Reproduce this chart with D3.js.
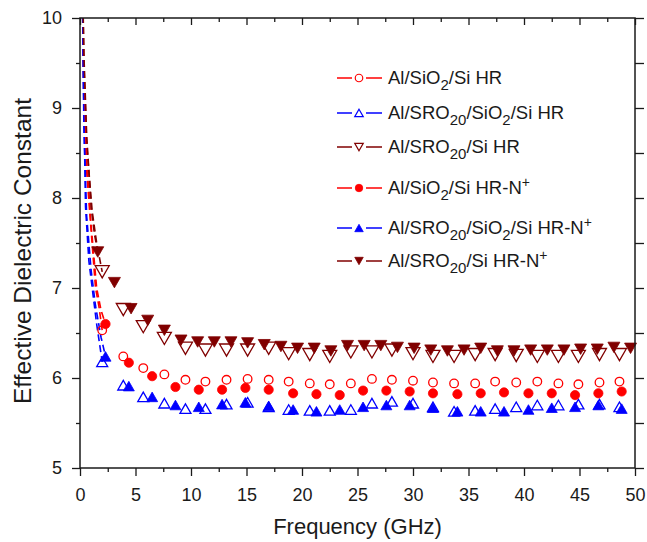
<!DOCTYPE html>
<html>
<head>
<meta charset="utf-8">
<script src="https://cdn.jsdelivr.net/npm/d3@7"></script>
<style>
  html, body { margin: 0; padding: 0; background: #fff; }
  svg { display: block; }
  text { font-family: "Liberation Sans", Arial, Helvetica, sans-serif; fill: #1a1a1a; }
</style>
</head>
<body>
<svg id="chart" width="647" height="542"></svg>
<script>
// ---------------- DATA ----------------
// marker frequencies (GHz)
const freqHR   = [2.0, 3.9, 5.7, 7.6, 9.5, 11.3, 13.2, 15.1, 17.0, 18.8, 20.7, 22.5, 24.4, 26.3, 28.1, 30.0, 31.8, 33.7, 35.6, 37.4, 39.3, 41.2, 43.1, 44.9, 46.8, 48.6];
const freqNp   = [2.3, 4.4, 6.5, 8.6, 10.7, 12.8, 14.9, 17.0, 19.2, 21.3, 23.4, 25.5, 27.6, 29.7, 31.8, 34.0, 36.1, 38.2, 40.4, 42.5, 44.6, 46.7, 48.8];
const freqDRNp = [1.6, 3.1, 4.6, 6.1, 7.6, 9.1, 10.6, 12.1, 13.6, 15.1, 16.6, 18.1, 19.6, 21.1, 22.6, 24.1, 25.6, 27.1, 28.6, 30.1, 31.6, 33.1, 34.6, 36.1, 37.6, 39.1, 40.6, 42.1, 43.6, 45.1, 46.6, 48.1, 49.6];

// effective dielectric constant at the markers
const sio2HR    = [6.53, 6.24, 6.11, 6.04, 5.98, 5.96, 5.98, 5.99, 5.98, 5.96, 5.94, 5.93, 5.94, 5.99, 5.98, 5.97, 5.95, 5.94, 5.94, 5.96, 5.95, 5.96, 5.94, 5.93, 5.95, 5.96];
const sroSio2HR = [6.18, 5.92, 5.79, 5.72, 5.66, 5.66, 5.71, 5.73, 5.68, 5.65, 5.64, 5.64, 5.65, 5.72, 5.74, 5.72, 5.68, 5.63, 5.64, 5.66, 5.68, 5.70, 5.70, 5.71, 5.71, 5.68];
const sroSiHR   = [7.18, 6.76, 6.57, 6.44, 6.33, 6.31, 6.31, 6.31, 6.33, 6.27, 6.26, 6.24, 6.29, 6.29, 6.31, 6.27, 6.24, 6.24, 6.26, 6.26, 6.25, 6.24, 6.24, 6.24, 6.26, 6.26];
const sio2Np    = [6.60, 6.17, 6.02, 5.90, 5.87, 5.87, 5.89, 5.87, 5.83, 5.82, 5.81, 5.86, 5.86, 5.85, 5.83, 5.82, 5.83, 5.84, 5.83, 5.83, 5.81, 5.83, 5.85];
const sroSio2Np = [6.24, 5.91, 5.79, 5.70, 5.68, 5.71, 5.73, 5.69, 5.65, 5.63, 5.65, 5.68, 5.70, 5.70, 5.67, 5.63, 5.63, 5.63, 5.65, 5.67, 5.68, 5.70, 5.66];
const sroSiNp   = [7.40, 7.06, 6.77, 6.64, 6.53, 6.42, 6.40, 6.40, 6.40, 6.39, 6.37, 6.35, 6.33, 6.33, 6.30, 6.36, 6.36, 6.36, 6.34, 6.33, 6.31, 6.30, 6.31, 6.33, 6.30, 6.30, 6.31, 6.31, 6.31, 6.32, 6.32, 6.34, 6.33];

// low-frequency sweep (dashed line part)
const sweepFreqSio2HR    = [0.15, 0.35, 0.6, 0.9, 1.4, 1.7, 2.0];
const sweepValSio2HR     = [11.0, 9.0, 8.3, 7.8, 7.0, 6.8, 6.53];
const sweepFreqSroSio2HR = [0.15, 0.35, 0.5, 0.8, 1.1, 1.5, 2.0];
const sweepValSroSio2HR  = [11.0, 9.0, 7.9, 7.3, 7.0, 6.6, 6.18];
const sweepFreqSroSiHR   = [0.15, 0.35, 0.6, 1.1, 1.5, 2.0];
const sweepValSroSiHR    = [11.0, 9.5, 8.6, 7.85, 7.5, 7.18];
const sweepFreqSio2Np    = [0.15, 0.35, 0.6, 1.0, 1.5, 1.9, 2.3];
const sweepValSio2Np     = [11.0, 9.2, 8.4, 7.7, 7.0, 6.75, 6.6];
const sweepFreqSroSio2Np = [0.15, 0.35, 0.6, 1.0, 1.4, 1.9, 2.3];
const sweepValSroSio2Np  = [11.0, 8.8, 7.8, 7.2, 6.8, 6.45, 6.24];
const sweepFreqSroSiNp   = [0.15, 0.35, 0.6, 1.0, 1.3, 1.6];
const sweepValSroSiNp    = [11.0, 9.6, 8.7, 7.9, 7.6, 7.4];

// legend labels: [text, kind] where kind is "" | "sub" | "sup"
const legendLabels = [
  [["Al/SiO", ""], ["2", "sub"], ["/Si HR", ""]],
  [["Al/SRO", ""], ["20", "sub"], ["/SiO", ""], ["2", "sub"], ["/Si HR", ""]],
  [["Al/SRO", ""], ["20", "sub"], ["/Si HR", ""]],
  [["Al/SiO", ""], ["2", "sub"], ["/Si HR-N", ""], ["+", "sup"]],
  [["Al/SRO", ""], ["20", "sub"], ["/SiO", ""], ["2", "sub"], ["/Si HR-N", ""], ["+", "sup"]],
  [["Al/SRO", ""], ["20", "sub"], ["/Si HR-N", ""], ["+", "sup"]]
];

const xTicks = [0, 5, 10, 15, 20, 25, 30, 35, 40, 45, 50];
const xMinorTicks = [2.5, 7.5, 12.5, 17.5, 22.5, 27.5, 32.5, 37.5, 42.5, 47.5];
const yTicks = [5, 6, 7, 8, 9, 10];
const yMinorTicks = [5.5, 6.5, 7.5, 8.5, 9.5];
const xTitle = "Frequency (GHz)";
const yTitle = "Effective Dielectric Constant";

// ---------------- SERIES (styles) ----------------
const RED = "#ff0000", BLUE = "#0000ff", DRED = "#800000";
const series = [
  { f: freqHR,   v: sio2HR,    sf: sweepFreqSio2HR,    sv: sweepValSio2HR,    color: RED,  shape: "circle",  filled: false, size: 8.6 },
  { f: freqHR,   v: sroSio2HR, sf: sweepFreqSroSio2HR, sv: sweepValSroSio2HR, color: BLUE, shape: "up",      filled: false, size: 11 },
  { f: freqHR,   v: sroSiHR,   sf: sweepFreqSroSiHR,   sv: sweepValSroSiHR,   color: DRED, shape: "down",    filled: false, size: 14 },
  { f: freqNp,   v: sio2Np,    sf: sweepFreqSio2Np,    sv: sweepValSio2Np,    color: RED,  shape: "circle",  filled: true,  size: 9.2 },
  { f: freqNp,   v: sroSio2Np, sf: sweepFreqSroSio2Np, sv: sweepValSroSio2Np, color: BLUE, shape: "up",      filled: true,  size: 11 },
  { f: freqDRNp, v: sroSiNp,   sf: sweepFreqSroSiNp,   sv: sweepValSroSiNp,   color: DRED, shape: "down",    filled: true,  size: 12 }
];

// ---------------- LAYOUT ----------------
const W = 647, H = 542;
const L = 80, R = 635, T = 18, B = 468;

const svg = d3.select("#chart");
svg.append("rect").attr("width", W).attr("height", H).attr("fill", "#fff");

const x = d3.scaleLinear().domain([0, 50]).range([L, R]);
const y = d3.scaleLinear().domain([5, 10]).range([B, T]);

function shapePath(shape, s) {
  if (shape === "circle") {
    return d3.symbol(d3.symbolCircle, Math.PI * (s / 2) * (s / 2))();
  }
  const w = s, h = s * 0.87;
  if (shape === "up") {
    return `M0,${-h / 2}L${w / 2},${h / 2}L${-w / 2},${h / 2}Z`;
  }
  return `M0,${h / 2}L${w / 2},${-h / 2}L${-w / 2},${-h / 2}Z`;
}

// clip
svg.append("defs").append("clipPath").attr("id", "plotClip")
  .append("rect").attr("x", L).attr("y", T).attr("width", R - L).attr("height", B - T);

const plot = svg.append("g").attr("clip-path", "url(#plotClip)");

// dashed low-frequency lines
const line = d3.line().x(d => x(d[0])).y(d => y(d[1]));
series.forEach(s => {
  const pts = s.sf.map((f, i) => [f, s.sv[i]]);
  plot.append("path")
    .attr("d", line(pts))
    .attr("fill", "none")
    .attr("stroke", s.color)
    .attr("stroke-width", 1.6)
    .attr("stroke-dasharray", "7,4");
});

// markers
const markerLayer = svg.append("g");
series.forEach(s => {
  const pts = s.f.map((f, i) => [f, s.v[i]]);
  markerLayer.append("g").selectAll("path").data(pts).join("path")
    .attr("transform", d => `translate(${x(d[0])},${y(d[1])})`)
    .attr("d", shapePath(s.shape, s.size))
    .attr("fill", s.filled ? s.color : "none")
    .attr("stroke", s.color)
    .attr("stroke-width", s.filled ? 0.8 : 1.3);
});

// ---------------- AXES ----------------
const axisStroke = "#1a1a1a";
function styleAxis(g) {
  g.select(".domain").remove();
  g.selectAll(".tick line").attr("stroke", axisStroke).attr("stroke-width", 1.3);
  g.selectAll(".tick text").style("font-size", "18px").attr("fill", "#1a1a1a")
    .style("font-family", "'Liberation Sans', Arial, sans-serif");
}

// bottom
svg.append("g").attr("transform", `translate(0,${B})`)
  .call(d3.axisBottom(x).tickValues(xTicks).tickSize(8).tickPadding(12).tickFormat(d3.format("d")))
  .call(styleAxis);
svg.append("g").attr("transform", `translate(0,${B})`)
  .call(d3.axisBottom(x).tickValues(xMinorTicks).tickSize(4).tickFormat(""))
  .call(styleAxis);
// top (ticks pointing inward)
svg.append("g").attr("transform", `translate(0,${T})`)
  .call(d3.axisTop(x).tickValues(xTicks).tickSize(-7).tickFormat(""))
  .call(styleAxis);
svg.append("g").attr("transform", `translate(0,${T})`)
  .call(d3.axisTop(x).tickValues(xMinorTicks).tickSize(-4).tickFormat(""))
  .call(styleAxis);
// left
svg.append("g").attr("transform", `translate(${L},0)`)
  .call(d3.axisLeft(y).tickValues(yTicks).tickSize(8).tickPadding(10).tickFormat(d3.format("d")))
  .call(styleAxis);
svg.append("g").attr("transform", `translate(${L},0)`)
  .call(d3.axisLeft(y).tickValues(yMinorTicks).tickSize(4).tickFormat(""))
  .call(styleAxis);
// right
svg.append("g").attr("transform", `translate(${R},0)`)
  .call(d3.axisRight(y).tickValues(yTicks).tickSize(9).tickFormat(""))
  .call(styleAxis);
svg.append("g").attr("transform", `translate(${R},0)`)
  .call(d3.axisRight(y).tickValues(yMinorTicks).tickSize(9).tickFormat(""))
  .call(styleAxis);

// frame
svg.append("rect").attr("x", L).attr("y", T).attr("width", R - L).attr("height", B - T)
  .attr("fill", "none").attr("stroke", axisStroke).attr("stroke-width", 1.5);

// titles
svg.append("text").attr("x", (L + R) / 2).attr("y", 534)
  .attr("text-anchor", "middle").style("font-size", "22px").text(xTitle);
svg.append("text").attr("transform", `translate(31,${(T + B) / 2 + 8}) rotate(-90)`)
  .attr("text-anchor", "middle").style("font-size", "24.5px").text(yTitle);

// ---------------- LEGEND ----------------
const legendY = [78, 113, 147, 188, 228, 261];
const legX = 359;
const leg = svg.append("g");
series.forEach((s, i) => {
  const cy = legendY[i];
  leg.append("line").attr("x1", 337).attr("x2", 352).attr("y1", cy).attr("y2", cy)
    .attr("stroke", s.color).attr("stroke-width", 1.5);
  leg.append("line").attr("x1", 366).attr("x2", 382).attr("y1", cy).attr("y2", cy)
    .attr("stroke", s.color).attr("stroke-width", 1.5);
  leg.append("path").attr("transform", `translate(${legX},${cy})`)
    .attr("d", shapePath(s.shape, s.shape === "circle" ? 7.5 : 8.5))
    .attr("fill", s.filled ? s.color : "none")
    .attr("stroke", s.color).attr("stroke-width", s.filled ? 0.8 : 1.2);

  const t = leg.append("text").attr("x", 388).attr("y", cy + 6).style("font-size", "18.5px");
  let shift = 0;
  legendLabels[i].forEach(([txt, kind]) => {
    let target = 0, size = "18.5px";
    if (kind === "sub") { target = 6; size = "15px"; }
    if (kind === "sup") { target = -7; size = "14px"; }
    t.append("tspan").attr("dy", target - shift).style("font-size", size).text(txt);
    shift = target;
  });
});
</script>
</body>
</html>
